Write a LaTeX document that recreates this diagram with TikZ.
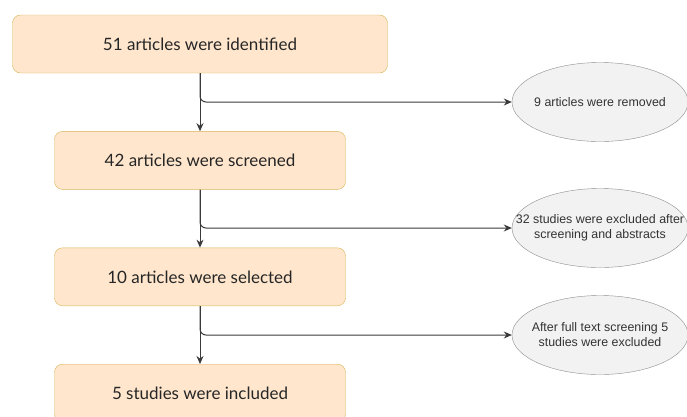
\documentclass[tikz,border=0pt]{standalone}
\usepackage{fontspec}
\setmainfont{Lato}
\newfontfamily\arialfont{Liberation Sans}
\usetikzlibrary{positioning,shapes.geometric,arrows.meta}
\definecolor{boxfill}{HTML}{FFE6CC}
\definecolor{boxline}{HTML}{D6B656}
\definecolor{ellfill}{HTML}{F2F2F2}
\definecolor{ellline}{HTML}{8C8C8C}
\definecolor{linecol}{HTML}{3A3A3A}
\tikzset{node distance=58pt,
  stage/.style={draw=boxline, fill=boxfill, rounded corners=8pt, minimum width=291pt, minimum height=58pt,
    font=\fontsize{17}{20}\selectfont, text=black!85},
  removed/.style={draw=ellline, fill=ellfill, ellipse, minimum width=176pt, minimum height=79pt,
    inner xsep=-25pt, inner ysep=0pt, align=center, font=\arialfont\fontsize{12.4}{15}\selectfont, text=black!80},
  flow/.style={draw=linecol, line width=1pt, -{Stealth[length=8pt,width=7pt]}}}

\begin{document}
\begin{tikzpicture}
	\useasboundingbox (0,0) rectangle (687pt,-416pt);
	\clip (0,0) rectangle (687pt,-416pt);

	\node[stage, minimum width=375pt] (B1) at (200pt,-44pt) {51 articles were identified};
	\node[stage] (B2) [below=of B1] {42 articles were screened};
	\node[stage] (B3) [below=of B2] {10 articles were selected};
	\node[stage] (B4) [below=of B3] {5 studies were included};

	\node[removed] (E1) at (600pt,-102pt) {9 articles were removed};
	\node[removed] (E2) at (600pt,-228pt) {32 studies were excluded after\\screening and abstracts};
	\node[removed] (E3) at (600pt,-335pt) {After full text screening 5\\studies were excluded};

	\draw[flow] (B1) -- (B2);
	\draw[flow] (B2) -- (B3);
	\draw[flow] (B3) -- (B4);
	\draw[flow, rounded corners=6pt] (B1.south) |- (E1.west);
	\draw[flow, rounded corners=6pt] (B2.south) |- (E2.west);
	\draw[flow, rounded corners=6pt] (B3.south) |- (E3.west);
\end{tikzpicture}
\end{document}
